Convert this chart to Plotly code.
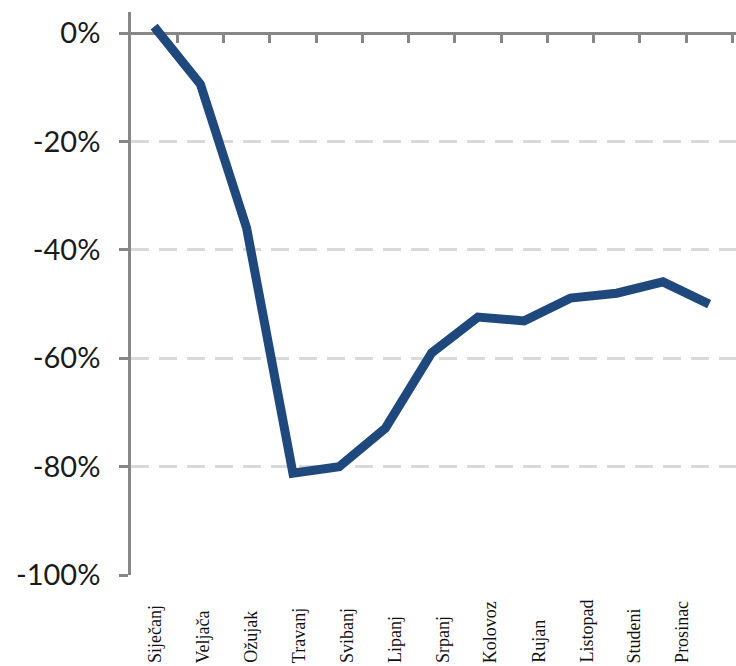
import plotly.graph_objects as go

# Month names shown under the chart
months = ["Siječanj", "Veljača", "Ožujak", "Travanj", "Svibanj", "Lipanj",
          "Srpanj", "Kolovoz", "Rujan", "Listopad", "Studeni", "Prosinac"]

# Year-on-year change in %, thirteen periods (last period is unlabelled)
change = [1.2, -9.4, -36.0, -81.2, -80.0, -72.9, -59.0,
          -52.4, -53.1, -48.9, -48.0, -45.9, -50.0]

y_ticks = [0, -20, -40, -60, -80, -100]
y_tick_labels = ["0%", "-20%", "-40%", "-60%", "-80%", "-100%"]

AXIS_GREY = "#878787"
GRID_GREY = "#D9D9D9"
LINE_BLUE = "#1F497D"

W, H = 736, 666
M_L, M_R, M_T, M_B = 131, 0, 12, 91
plot_h = H - M_T - M_B
y_min, y_max = -100, 3.9

periods = list(range(len(change)))
period_bounds = [p + 0.5 for p in periods]

fig = go.Figure()
fig.add_trace(go.Scatter(
    x=periods, y=change, mode="lines",
    line=dict(color=LINE_BLUE, width=9),
    hoverinfo="skip", showlegend=False,
))
# empty trace so that the label axis is created
fig.add_trace(go.Scatter(x=[], y=[], xaxis="x2", showlegend=False, hoverinfo="skip"))

# month labels, bottom-aligned, rotated
label_y = -((H - 1) - (H - M_B)) / plot_h
annotations = []
for i, m in enumerate(months):
    annotations.append(dict(
        x=i, xref="x2", y=label_y, yref="paper",
        text=m, textangle=-90, showarrow=False,
        xanchor="center", yanchor="bottom",
        font=dict(family="Liberation Serif", size=18, color="#111111"),
    ))

fig.update_layout(
    width=W, height=H,
    margin=dict(l=M_L, r=M_R, t=M_T, b=M_B, pad=0),
    paper_bgcolor="white", plot_bgcolor="white",
    showlegend=False,
    xaxis=dict(
        range=[-0.5, 12.58],
        anchor="free", position=(0 - y_min) / (y_max - y_min), side="bottom",
        showline=True, linecolor=AXIS_GREY, linewidth=2.5,
        ticks="outside", ticklen=8, tickwidth=2.5, tickcolor=AXIS_GREY,
        tickvals=period_bounds, showticklabels=False,
        showgrid=False, zeroline=False, layer="below traces",
    ),
    xaxis2=dict(
        overlaying="x", range=[-0.501, 12.13], visible=False,
    ),
    yaxis=dict(
        range=[y_min, y_max],
        tickvals=y_ticks, ticktext=y_tick_labels,
        tickfont=dict(family="Lato", size=29, color="#1a1a1a"),
        showline=True, linecolor=AXIS_GREY, linewidth=2.5,
        ticks="outside", ticklen=9, tickwidth=2.5, tickcolor=AXIS_GREY,
        ticklabelstandoff=13,
        showgrid=True, gridcolor=GRID_GREY, gridwidth=2.5, griddash="18px,10px",
        zeroline=False, layer="below traces",
    ),
    annotations=annotations,
)

fig.write_html("out.html")
